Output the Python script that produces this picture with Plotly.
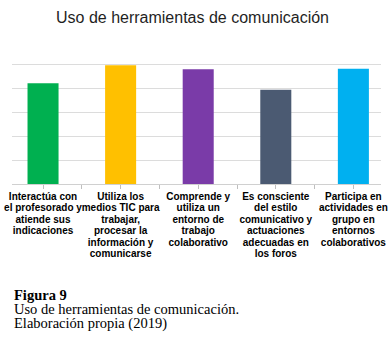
import plotly.graph_objects as go

category_lines = [
    ["Interactúa con", "el profesorado y", "atiende sus", "indicaciones"],
    ["Utiliza los", "medios TIC para", "trabajar,", "procesar la", "información y", "comunicarse"],
    ["Comprende y", "utiliza un", "entorno de", "trabajo", "colaborativo"],
    ["Es consciente", "del estilo", "comunicativo y", "actuaciones", "adecuadas en", "los foros"],
    ["Participa en", "actividades en", "grupo en", "entornos", "colaborativos"],
]
values = [4.2, 4.95, 4.78, 3.93, 4.8]
colors = ["#00B050", "#FFC000", "#7A3BA8", "#4B5A72", "#00B0F0"]
positions = list(range(len(category_lines)))

title_text = "Uso de herramientas de comunicación"
caption_lines = ["<b>Figura 9</b>", "Uso de herramientas de comunicación.", "Elaboración propia (2019)"]

# glyph size vs. line pitch (plotly line pitch = 1.3 x base font size)
label_glyph = 10
label_base = 8.85
cap_glyph = 14.5
cap_base = 10.8


def tight(lines, px):
    return "<br>".join(f"<span style='font-size:{px}px'>{t}</span>" for t in lines)


ticktext = [tight(c, label_glyph) for c in category_lines]

fig = go.Figure(go.Bar(x=positions, y=values, marker=dict(color=colors, line=dict(width=0)), width=0.4))

W, H = 392, 345
ml, mr, mt, mb = 12, 11, 40, 161
plot_h = H - mt - mb

fig.update_layout(
    width=W, height=H,
    margin=dict(l=ml, r=mr, t=mt, b=mb, pad=0),
    paper_bgcolor="white", plot_bgcolor="white",
    showlegend=False,
    title=dict(text=title_text, x=192.5 / W, xref="container", xanchor="center",
               y=1 - 17 / H, yref="container", yanchor="middle",
               font=dict(family="Liberation Sans, Arial", size=16, color="#1f1f1f")),
    font=dict(family="Liberation Sans, Arial", color="black"),
)
fig.update_xaxes(
    range=[-0.4, 4.356], tickvals=positions, ticktext=ticktext,
    tickangle=0,
    ticks="outside", ticklen=4, tickcolor="#bfbfbf", tickwidth=1,
    minor=dict(ticks="outside", ticklen=4, tickcolor="#bfbfbf", tick0=0.5, dtick=1, showgrid=False),
    showline=True, linecolor="#d0d0d0", linewidth=1,
    showgrid=False, zeroline=False, automargin=False,
    tickfont=dict(family="Liberation Sans, Arial", size=label_base, color="black", weight="bold"),
)
fig.update_yaxes(
    range=[0, 6], dtick=1, showticklabels=False, ticks="",
    showgrid=True, gridcolor="#dcdcdc", gridwidth=1,
    zeroline=False, showline=False, automargin=False,
)

fig.add_annotation(
    text=tight(caption_lines, cap_glyph), xref="paper", yref="paper",
    x=0, xanchor="left", align="left",
    y=(H - mb - 309) / plot_h, yanchor="middle",
    showarrow=False,
    font=dict(family="Liberation Serif, Times New Roman", size=cap_base, color="black"),
)

fig.write_html("out.html")
